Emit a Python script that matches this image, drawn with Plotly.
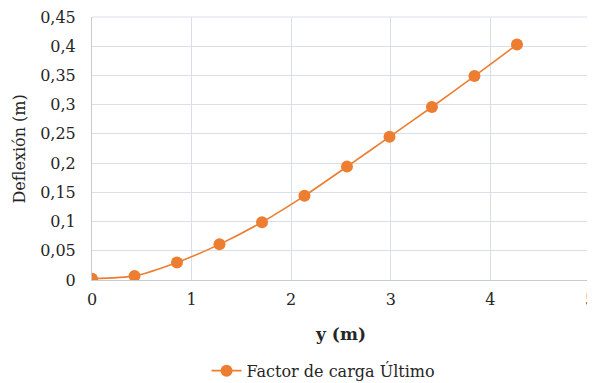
import plotly.graph_objects as go

y_pos = [0, 0.427, 0.853, 1.28, 1.707, 2.133, 2.56, 2.987, 3.413, 3.84, 4.267]
deflexion = [0.002, 0.007, 0.030, 0.061, 0.099, 0.144, 0.194, 0.245, 0.296, 0.349, 0.403]
series_name = "Factor de carga Último"

FONT = "DejaVu Serif"
grid = "#d9dee8"

fig = go.Figure()
fig.add_trace(go.Scatter(
    x=y_pos, y=deflexion, name=series_name, mode="lines+markers",
    line=dict(color="#ED7D31", width=1.6, shape="spline", smoothing=0.6),
    marker=dict(color="#ED7D31", size=12),
))

fig.update_layout(
    width=587, height=375,
    margin=dict(l=84, r=5, t=9, b=103, autoexpand=False),
    paper_bgcolor="white", plot_bgcolor="white",
    font=dict(family=FONT, size=16, color="#262626"),
    separators=",.",
    showlegend=True,
    legend=dict(orientation="h", x=0.23, xanchor="left", y=-0.345, yanchor="middle",
                font=dict(size=16)),
    xaxis=dict(range=[0, 5], dtick=1, showgrid=True, gridcolor=grid, gridwidth=1,
               showline=True, linecolor="#c5ccd8", linewidth=1, zeroline=False,
               ticks="", ticklen=0, automargin=False, ticklabelstandoff=5,
               ticklabeloverflow="allow",
               title=dict(text="<b>y (m)</b>", font=dict(size=17), standoff=19)),
    yaxis=dict(range=[0, 0.45], dtick=0.05, showgrid=True, gridcolor=grid, gridwidth=1,
               showline=True, linecolor="#c5ccd8", linewidth=1, zeroline=False,
               ticks="outside", ticklen=12, tickcolor="rgba(0,0,0,0)",
               automargin=False, ticklabeloverflow="allow"),
    annotations=[dict(text="Deflexión (m)", xref="paper", yref="paper",
                      x=-0.1446, y=0.5, xanchor="center", yanchor="middle",
                      textangle=-90, showarrow=False, font=dict(size=16))],
)
fig.add_shape(type="line", xref="paper", yref="paper", x0=1, x1=1, y0=0, y1=1,
              line=dict(color=grid, width=1))
fig.add_shape(type="line", xref="paper", yref="paper", x0=0, x1=1, y0=1, y1=1,
              line=dict(color=grid, width=1))

fig.write_html("out.html")
